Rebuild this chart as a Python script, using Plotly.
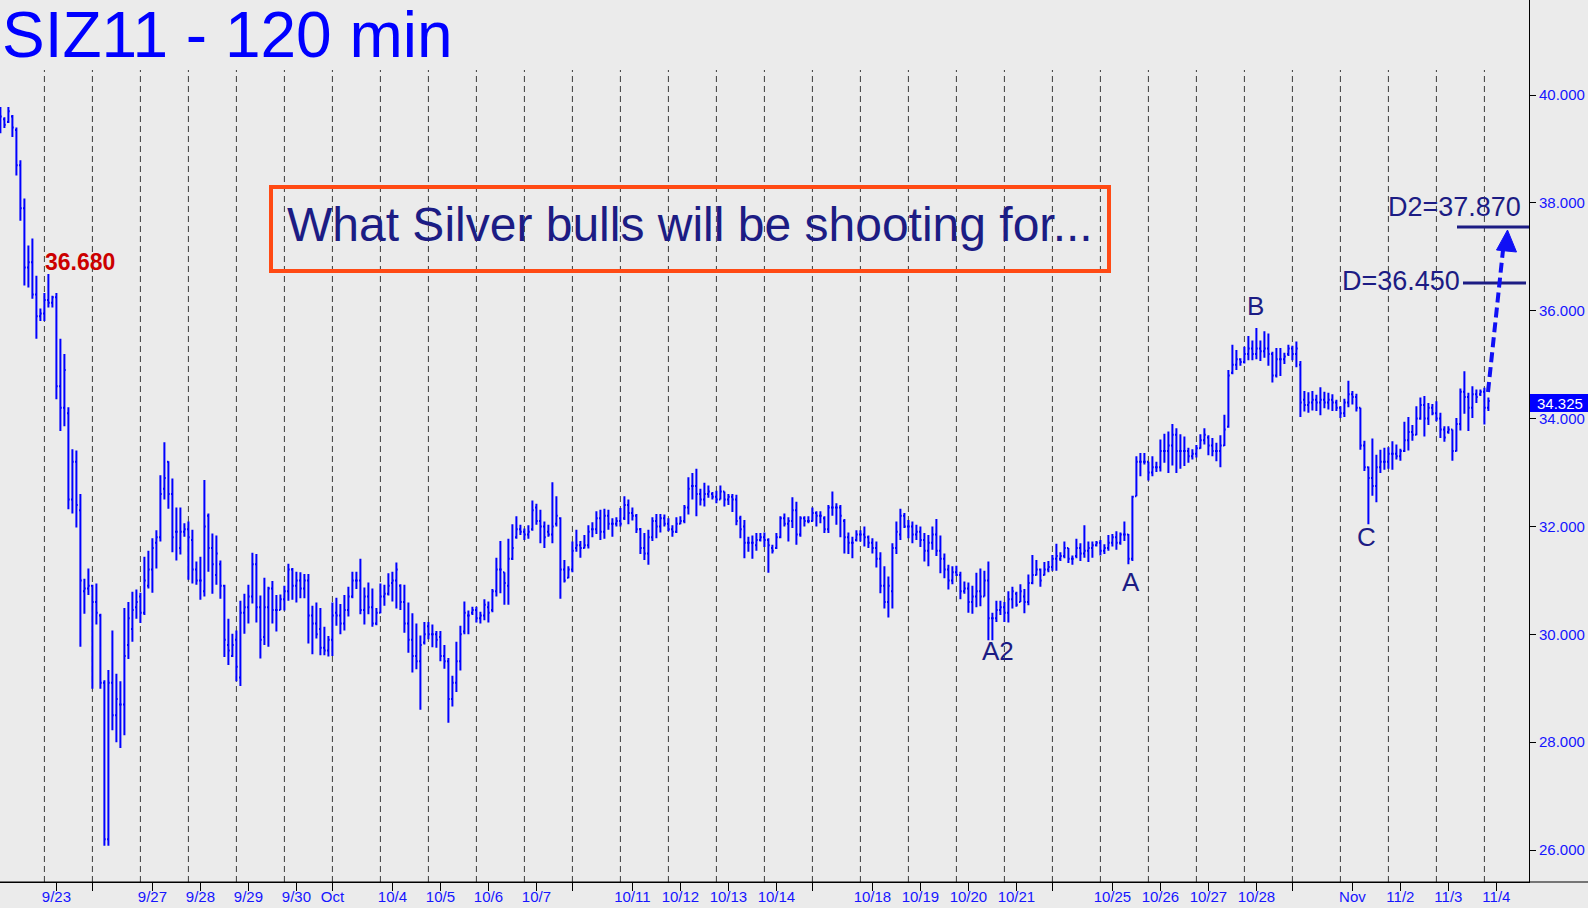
import plotly.graph_objects as go

# ---------------- data (120-min OHLC bars) ----------------
highs = [
    39.78, 39.59, 39.78, 39.63, 39.40, 38.79, 38.08, 37.21, 37.34, 36.65, 36.04,
    36.33, 36.68, 36.28, 36.33, 35.48, 35.20, 34.21, 33.43, 33.41, 32.60, 31.03, 31.22,
    30.92, 30.94, 30.38, 29.15, 29.34, 30.07, 29.27, 29.13, 30.49, 30.60, 30.79, 30.83,
    30.77, 31.44, 31.55, 31.78, 31.93, 32.95, 33.56, 33.21, 32.89, 32.35, 32.35, 32.06,
    32.09, 31.94, 31.35, 31.44, 32.86, 32.24, 31.87, 31.83, 31.37, 30.92, 30.29, 30.01,
    30.07, 30.62, 30.75, 30.92, 31.51, 31.49, 30.72, 31.05, 30.88, 30.99, 30.73, 30.74,
    30.90, 31.31, 31.23, 31.16, 31.15, 31.12, 31.12, 30.53, 30.59, 30.49, 30.14, 29.97,
    30.59, 30.68, 30.56, 30.73, 30.88, 31.16, 31.16, 31.40, 30.87, 30.96, 30.85, 30.49,
    30.94, 30.92, 31.13, 31.16, 31.33, 30.93, 30.92, 30.59, 30.39, 30.20, 29.98, 30.23,
    30.23, 30.18, 30.06, 30.06, 29.80, 29.56, 29.23, 29.86, 30.16, 30.61, 30.44, 30.51,
    30.51, 30.42, 30.65, 30.61, 30.84, 31.42, 31.73, 31.15, 31.77, 32.04, 32.19, 32.03,
    31.96, 32.02, 32.48, 32.42, 32.31, 32.09, 32.03, 32.82, 32.56, 32.17, 31.38, 31.26,
    31.72, 31.94, 31.73, 31.84, 32.02, 32.08, 32.28, 32.31, 32.33, 32.31, 32.15, 32.17,
    32.34, 32.56, 32.50, 32.35, 32.23, 31.97, 31.88, 31.94, 32.17, 32.23, 32.23, 32.22,
    32.15, 32.02, 32.17, 32.19, 32.40, 32.91, 32.99, 33.07, 32.70, 32.81, 32.76, 32.64,
    32.66, 32.76, 32.65, 32.60, 32.60, 32.59, 32.20, 32.12, 31.81, 31.83, 31.88, 31.88,
    31.89, 31.78, 31.66, 31.88, 32.19, 32.24, 32.17, 32.54, 32.46, 32.19, 32.19, 32.19,
    32.35, 32.28, 32.28, 32.19, 32.40, 32.65, 32.43, 32.40, 32.14, 31.89, 31.81, 31.93,
    31.93, 32.00, 31.83, 31.78, 31.72, 31.52, 31.26, 31.07, 31.69, 32.09, 32.33, 32.25,
    32.12, 32.09, 32.03, 32.00, 31.88, 31.84, 32.00, 32.14, 31.83, 31.50, 31.29, 31.26,
    31.27, 31.16, 30.98, 30.96, 30.90, 31.14, 31.22, 31.18, 31.35, 30.40, 30.62, 30.62,
    30.60, 30.80, 30.88, 30.79, 30.93, 30.84, 31.11, 31.47, 31.38, 31.22, 31.34, 31.36,
    31.47, 31.68, 31.52, 31.72, 31.60, 31.46, 31.77, 31.69, 32.02, 31.72, 31.72, 31.73,
    31.75, 31.67, 31.84, 31.86, 31.91, 31.89, 32.09, 31.86, 32.57, 33.30, 33.36, 33.36,
    33.20, 33.30, 33.20, 33.61, 33.72, 33.76, 33.90, 33.82, 33.71, 33.67, 33.46, 33.43,
    33.51, 33.71, 33.82, 33.69, 33.64, 33.55, 33.69, 34.07, 34.90, 35.37, 35.27, 35.12,
    35.33, 35.53, 35.45, 35.68, 35.45, 35.62, 35.58, 35.24, 35.31, 35.31, 35.22, 35.37,
    35.35, 35.43, 35.07, 34.51, 34.49, 34.51, 34.44, 34.58, 34.50, 34.48, 34.45, 34.35,
    34.23, 34.37, 34.70, 34.51, 34.46, 34.20, 33.59, 33.11, 33.63, 33.33, 33.42, 33.46,
    33.47, 33.58, 33.52, 33.44, 33.94, 34.03, 33.88, 34.23, 34.39, 34.42, 34.29, 34.27,
    34.32, 34.11, 33.86, 33.86, 33.80, 34.01, 34.56, 34.88, 34.48, 34.60, 34.54, 34.54,
    34.57, 34.39,
]
lows = [
    39.29, 39.39, 39.48, 39.22, 38.51, 37.67, 36.47, 36.43, 36.22, 35.48, 35.81,
    35.81, 36.06, 36.06, 34.36, 33.77, 33.86, 32.32, 32.24, 31.98, 29.77, 30.38, 30.73,
    28.99, 30.18, 28.99, 26.08, 26.08, 28.22, 28.00, 27.89, 28.13, 29.54, 29.86, 30.29,
    30.21, 30.36, 30.85, 30.77, 31.22, 31.72, 32.50, 32.33, 31.52, 31.37, 31.48, 31.81,
    31.01, 30.94, 30.92, 30.64, 30.70, 31.16, 30.75, 30.92, 30.66, 29.58, 29.43, 29.58,
    29.13, 29.04, 30.01, 30.20, 30.57, 30.22, 29.55, 29.80, 29.77, 30.20, 30.05, 30.45,
    30.44, 30.62, 30.64, 30.59, 30.67, 30.67, 29.83, 29.63, 29.92, 29.61, 29.61, 29.59,
    29.60, 30.16, 30.00, 30.07, 30.33, 30.67, 30.84, 30.37, 30.18, 30.37, 30.14, 30.17,
    30.39, 30.53, 30.72, 30.61, 30.48, 30.45, 30.03, 29.66, 29.29, 29.35, 28.60, 29.81,
    29.91, 29.76, 29.75, 29.50, 29.36, 28.36, 28.66, 28.93, 29.33, 30.00, 30.00, 30.36,
    30.22, 30.20, 30.26, 30.22, 30.41, 30.70, 30.76, 30.55, 30.55, 31.38, 31.77, 31.84,
    31.75, 31.77, 31.92, 32.03, 31.69, 31.60, 31.81, 31.69, 32.00, 30.66, 30.96, 31.04,
    31.15, 31.53, 31.42, 31.59, 31.59, 31.80, 31.86, 31.75, 31.77, 31.94, 31.81, 32.00,
    32.00, 32.12, 32.04, 32.11, 31.88, 31.49, 31.38, 31.29, 31.73, 31.78, 31.89, 32.00,
    31.91, 31.81, 31.88, 32.04, 32.06, 32.22, 32.50, 32.19, 32.39, 32.37, 32.53, 32.50,
    32.43, 32.50, 32.37, 32.40, 32.27, 32.02, 31.78, 31.41, 31.53, 31.40, 31.55, 31.72,
    31.62, 31.14, 31.50, 31.58, 31.78, 32.00, 31.72, 31.97, 31.66, 31.81, 32.00, 32.06,
    32.09, 32.00, 32.06, 31.88, 31.88, 32.20, 32.03, 31.80, 31.50, 31.49, 31.41, 31.72,
    31.72, 31.63, 31.60, 31.50, 31.24, 30.76, 30.48, 30.31, 30.48, 31.49, 31.75, 31.97,
    31.78, 31.69, 31.75, 31.62, 31.35, 31.26, 31.57, 31.45, 31.13, 31.04, 30.83, 30.93,
    31.08, 30.65, 30.75, 30.40, 30.38, 30.50, 30.52, 30.70, 29.89, 29.89, 30.23, 30.36,
    30.23, 30.22, 30.48, 30.51, 30.60, 30.39, 30.54, 30.93, 31.09, 30.88, 31.09, 31.15,
    31.18, 31.18, 31.36, 31.41, 31.32, 31.29, 31.41, 31.36, 31.42, 31.34, 31.42, 31.63,
    31.46, 31.49, 31.55, 31.63, 31.57, 31.66, 31.73, 31.30, 31.36, 32.56, 32.93, 33.15,
    32.85, 32.93, 33.01, 33.02, 33.18, 32.99, 33.13, 32.99, 33.07, 33.12, 33.18, 33.24,
    33.28, 33.44, 33.52, 33.32, 33.30, 33.21, 33.10, 33.49, 33.83, 34.82, 34.90, 34.98,
    35.02, 35.08, 35.08, 35.10, 35.07, 35.13, 34.98, 34.67, 34.76, 34.79, 35.01, 35.16,
    35.08, 34.95, 34.03, 34.13, 34.11, 34.15, 34.14, 34.06, 34.19, 34.17, 34.14, 34.14,
    34.01, 34.03, 34.21, 34.26, 34.13, 33.42, 33.03, 32.04, 32.57, 32.45, 32.99, 33.05,
    33.07, 33.05, 33.24, 33.22, 33.38, 33.41, 33.59, 33.69, 33.98, 33.67, 33.88, 34.06,
    33.95, 33.64, 33.57, 33.72, 33.22, 33.39, 33.78, 34.09, 33.77, 34.01, 34.29, 34.42,
    33.89, 34.14,
]
opens = [
    39.50, 39.55, 39.50, 39.60, 39.35, 38.70, 37.90, 36.80, 36.90, 36.30, 35.90,
    35.95, 36.20, 36.15, 36.25, 34.60, 34.20, 34.10, 32.50, 33.20, 32.30, 30.80, 30.85,
    30.90, 30.60, 30.35, 29.10, 26.20, 29.10, 28.50, 28.70, 28.70, 29.80, 30.10, 30.50,
    30.70, 30.40, 30.90, 31.20, 31.70, 31.80, 32.70, 33.20, 32.60, 31.90, 31.60, 31.90,
    31.95, 31.75, 31.20, 31.00, 30.80, 32.20, 31.60, 31.10, 31.30, 30.90, 29.80, 29.60,
    29.90, 29.20, 30.40, 30.50, 30.70, 31.30, 30.50, 29.95, 30.50, 30.85, 30.45, 30.45,
    30.65, 30.80, 31.20, 30.90, 31.00, 30.85, 31.00, 30.35, 30.20, 30.10, 29.75, 29.70,
    29.90, 30.40, 30.35, 30.20, 30.45, 30.70, 31.00, 31.00, 30.45, 30.70, 30.50, 30.20,
    30.40, 30.70, 30.75, 30.95, 31.00, 30.90, 30.60, 30.20, 29.90, 29.60, 29.50, 29.85,
    30.15, 30.00, 30.00, 29.95, 29.60, 29.50, 28.80, 29.10, 29.50, 30.05, 30.35, 30.40,
    30.45, 30.30, 30.35, 30.50, 30.45, 30.80, 31.20, 31.15, 30.90, 31.40, 31.80, 31.95,
    31.90, 31.85, 31.95, 32.35, 32.10, 32.00, 31.90, 31.85, 32.05, 32.15, 31.20, 31.05,
    31.20, 31.60, 31.65, 31.60, 31.65, 31.95, 31.95, 32.15, 31.90, 32.20, 32.05, 32.05,
    32.10, 32.15, 32.40, 32.25, 32.20, 31.95, 31.60, 31.50, 31.80, 32.10, 32.00, 32.15,
    32.05, 31.95, 31.90, 32.05, 32.10, 32.35, 32.75, 32.75, 32.60, 32.50, 32.60, 32.60,
    32.55, 32.50, 32.65, 32.50, 32.55, 32.50, 32.15, 32.00, 31.70, 31.70, 31.65, 31.75,
    31.80, 31.75, 31.60, 31.60, 31.80, 32.15, 32.05, 32.10, 32.30, 31.85, 32.15, 32.10,
    32.10, 32.25, 32.20, 32.15, 31.95, 32.35, 32.35, 32.35, 32.10, 31.80, 31.70, 31.75,
    31.85, 31.85, 31.80, 31.70, 31.60, 31.40, 30.90, 30.60, 30.80, 31.60, 31.85, 32.20,
    32.00, 32.00, 31.85, 31.90, 31.75, 31.55, 31.70, 31.85, 31.55, 31.40, 31.20, 31.00,
    31.15, 31.10, 30.80, 30.85, 30.60, 30.70, 30.80, 30.70, 31.00, 30.30, 30.30, 30.45,
    30.50, 30.40, 30.65, 30.75, 30.60, 30.70, 30.60, 30.95, 31.10, 31.20, 31.10, 31.20,
    31.25, 31.40, 31.40, 31.45, 31.60, 31.40, 31.45, 31.60, 31.50, 31.55, 31.60, 31.65,
    31.70, 31.55, 31.60, 31.70, 31.80, 31.70, 31.85, 31.85, 31.40, 32.56, 33.20, 33.20,
    33.20, 33.00, 33.10, 33.10, 33.40, 33.40, 33.50, 33.70, 33.40, 33.40, 33.40, 33.30,
    33.35, 33.45, 33.60, 33.65, 33.50, 33.40, 33.40, 33.50, 33.85, 34.85, 35.00, 35.10,
    35.05, 35.20, 35.30, 35.20, 35.30, 35.25, 35.30, 35.20, 34.80, 35.10, 35.10, 35.20,
    35.30, 35.20, 35.00, 34.35, 34.25, 34.30, 34.35, 34.30, 34.35, 34.30, 34.35, 34.30,
    34.20, 34.10, 34.30, 34.45, 34.40, 34.20, 33.50, 33.10, 32.90, 32.75, 33.10, 33.20,
    33.20, 33.35, 33.35, 33.30, 33.40, 33.60, 33.75, 33.70, 34.00, 34.25, 34.00, 34.20,
    34.10, 34.00, 33.80, 33.75, 33.80, 33.40, 33.90, 34.50, 34.40, 34.20, 34.45, 34.45,
    34.50, 34.20,
]
closes = [
    39.60, 39.45, 39.70, 39.40, 38.70, 37.90, 36.80, 36.90, 36.30, 35.90, 35.95,
    36.20, 36.15, 36.25, 34.60, 34.20, 34.90, 32.50, 33.20, 32.40, 31.00, 30.85, 30.90,
    30.60, 30.40, 29.10, 26.20, 29.10, 28.50, 28.80, 28.70, 29.60, 30.30, 30.45, 30.60,
    30.40, 31.00, 31.20, 31.60, 31.80, 32.60, 32.90, 32.60, 31.80, 31.90, 31.90, 31.95,
    31.80, 31.20, 31.00, 31.00, 32.00, 31.60, 31.30, 31.50, 30.90, 29.90, 29.70, 29.80,
    29.40, 30.40, 30.50, 30.70, 31.30, 30.50, 29.90, 30.50, 30.85, 30.45, 30.45, 30.65,
    30.80, 31.20, 30.90, 31.00, 30.85, 31.00, 30.35, 30.20, 30.00, 29.75, 29.70, 29.90,
    30.35, 30.35, 30.20, 30.45, 30.70, 31.00, 31.00, 30.45, 30.70, 30.50, 30.20, 30.40,
    30.70, 30.75, 30.90, 31.00, 31.20, 30.60, 30.20, 29.90, 29.60, 29.50, 29.80, 30.00,
    30.00, 30.00, 29.90, 29.60, 29.50, 28.80, 29.10, 29.50, 30.00, 30.40, 30.35, 30.45,
    30.30, 30.35, 30.55, 30.40, 30.80, 31.20, 31.20, 30.95, 31.40, 31.60, 31.95, 31.90,
    31.85, 31.90, 32.30, 32.10, 32.00, 31.80, 31.85, 32.00, 32.20, 31.20, 31.00, 31.20,
    31.55, 31.65, 31.60, 31.65, 31.90, 31.95, 32.15, 31.90, 32.20, 32.05, 32.05, 32.10,
    32.05, 32.40, 32.25, 32.20, 31.95, 31.60, 31.50, 31.80, 32.10, 32.00, 32.15, 32.05,
    31.95, 31.90, 32.05, 32.10, 32.35, 32.70, 32.75, 32.60, 32.50, 32.60, 32.65, 32.55,
    32.50, 32.65, 32.50, 32.55, 32.50, 32.10, 31.95, 31.70, 31.70, 31.70, 31.75, 31.80,
    31.75, 31.65, 31.55, 31.80, 32.15, 32.05, 32.10, 32.30, 31.85, 32.15, 32.10, 32.10,
    32.25, 32.20, 32.20, 31.95, 32.35, 32.35, 32.35, 32.20, 31.80, 31.70, 31.70, 31.85,
    31.85, 31.80, 31.70, 31.60, 31.40, 30.90, 30.60, 30.90, 31.60, 31.90, 32.20, 32.00,
    32.00, 31.85, 31.90, 31.75, 31.55, 31.70, 31.85, 31.55, 31.40, 31.20, 31.00, 31.15,
    31.10, 30.80, 30.85, 30.60, 30.70, 30.80, 30.70, 31.00, 30.30, 30.30, 30.45, 30.50,
    30.40, 30.65, 30.80, 30.55, 30.80, 30.60, 30.95, 31.10, 31.20, 31.00, 31.20, 31.25,
    31.40, 31.45, 31.45, 31.60, 31.40, 31.40, 31.60, 31.50, 31.55, 31.60, 31.65, 31.70,
    31.55, 31.60, 31.70, 31.80, 31.70, 31.85, 31.85, 31.40, 32.55, 33.20, 33.20, 33.20,
    33.00, 33.10, 33.10, 33.40, 33.40, 33.50, 33.70, 33.40, 33.40, 33.40, 33.30, 33.35,
    33.45, 33.60, 33.70, 33.50, 33.40, 33.40, 33.50, 33.80, 34.80, 35.00, 35.10, 35.05,
    35.20, 35.30, 35.20, 35.30, 35.25, 35.30, 35.20, 34.80, 35.10, 35.10, 35.15, 35.30,
    35.20, 35.30, 34.30, 34.25, 34.30, 34.35, 34.30, 34.35, 34.30, 34.35, 34.30, 34.20,
    34.10, 34.30, 34.45, 34.40, 34.20, 33.50, 33.10, 32.90, 32.75, 33.10, 33.20, 33.20,
    33.35, 33.35, 33.30, 33.40, 33.60, 33.75, 33.70, 34.00, 34.25, 34.00, 34.20, 34.10,
    34.00, 33.80, 33.65, 33.80, 33.40, 33.90, 34.50, 34.40, 34.20, 34.45, 34.40, 34.50,
    34.20, 34.325,
]
bar_index = list(range(len(highs)))

# day labels on the time axis (bar index of each labelled tick)
day_tick_bars = [14, 38, 50, 62, 74, 83, 98, 110, 122, 134, 158, 170, 182, 194,
                 218, 230, 242, 254, 278, 290, 302, 314, 338, 350, 362, 374]
day_tick_labels = ["9/23", "9/27", "9/28", "9/29", "9/30", "Oct", "10/4", "10/5",
                   "10/6", "10/7", "10/11", "10/12", "10/13", "10/14", "10/18",
                   "10/19", "10/20", "10/21", "10/25", "10/26", "10/27", "10/28",
                   "Nov", "11/2", "11/3", "11/4"]
week_start_bars = [23, 143, 203, 263, 323]           # unlabelled ticks
session_break_bars = [11 + 12 * k for k in range(31)]  # dashed day separators

price_ticks = [26, 28, 30, 32, 34, 36, 38, 40]
last_price = "34.325"
peak_label = "36.680"
d_label, d2_label = "D=36.450", "D2=37.870"

# ---------------- geometry helpers ----------------
W, H = 1588, 908
PL, PR, PT, PB = 0, 1529, 0, 882
YMIN, YMAX = 25.407, 41.762
XMIN, XMAX = -0.1, 382.15


def px(x):
    return (x - PL) / (PR - PL)


def py(y):
    return 1 - (y - PT) / (PB - PT)


NAVY = "#1C1C84"
BLUE = "#0000FF"
AXBLUE = "#1515FF"
FONT = "Liberation Sans, Arial, sans-serif"

fig = go.Figure()
fig.add_trace(go.Ohlc(
    x=bar_index, open=opens, high=highs, low=lows, close=closes,
    increasing=dict(line=dict(color=BLUE, width=2)),
    decreasing=dict(line=dict(color=BLUE, width=2)),
    tickwidth=0.35, hoverinfo="skip", showlegend=False,
))

shapes = []
for b in session_break_bars:
    shapes.append(dict(type="line", xref="x", yref="y", x0=b, x1=b,
                       y0=YMIN, y1=40.464, layer="below",
                       line=dict(color="#3C3C3C", width=1, dash="6px,4px")))
# bottom rule extends to the right edge
shapes.append(dict(type="line", xref="paper", yref="paper", x0=0, x1=px(W),
                   y0=0, y1=0, line=dict(color="black", width=1)))
# orange box
shapes.append(dict(type="rect", xref="paper", yref="paper",
                   x0=px(271), x1=px(1109), y0=py(187), y1=py(271),
                   line=dict(color="#FF4A14", width=4), fillcolor="rgba(0,0,0,0)"))
# D and D2 levels
shapes.append(dict(type="line", xref="paper", yref="paper", x0=px(1457), x1=px(1529),
                   y0=py(227), y1=py(227), line=dict(color=NAVY, width=3)))
shapes.append(dict(type="line", xref="paper", yref="paper", x0=px(1463), x1=px(1526),
                   y0=py(283), y1=py(283), line=dict(color=NAVY, width=3)))
# dashed projection arrow
shapes.append(dict(type="line", xref="paper", yref="paper", x0=px(1488), x1=px(1503),
                   y0=py(392), y1=py(250), line=dict(color="#1010F5", width=4, dash="10px,5px")))
shapes.append(dict(type="path", xref="paper", yref="paper",
                   path=f"M {px(1507.5)},{py(230)} L {px(1496.5)},{py(250)} L {px(1516.5)},{py(252)} Z",
                   fillcolor="#1010F5", line=dict(color="#1010F5", width=1)))
# last price box
shapes.append(dict(type="rect", xref="paper", yref="paper",
                   x0=px(1530), x1=px(1588), y0=py(394), y1=py(412),
                   fillcolor=BLUE, line=dict(width=0)))

ann = []
ann.append(dict(text="SIZ11 - 120 min", xref="paper", yref="paper", x=px(1), y=py(35.5),
                xanchor="left", yanchor="middle", showarrow=False, borderpad=0,
                font=dict(family=FONT, size=64, color=BLUE)))
ann.append(dict(text="What Silver bulls will be shooting for...", xref="paper", yref="paper",
                x=px(285), y=py(225), xanchor="left", yanchor="middle", showarrow=False,
                font=dict(family=FONT, size=48, color=NAVY)))
ann.append(dict(text=f"<b>{peak_label}</b>", xref="paper", yref="paper", x=px(43), y=py(262),
                xanchor="left", yanchor="middle", showarrow=False,
                font=dict(family=FONT, size=23, color="#CC0000")))
ann.append(dict(text=d2_label, xref="paper", yref="paper", x=px(1523), y=py(207),
                xanchor="right", yanchor="middle", showarrow=False,
                font=dict(family=FONT, size=27, color=NAVY)))
ann.append(dict(text=d_label, xref="paper", yref="paper", x=px(1462), y=py(281),
                xanchor="right", yanchor="middle", showarrow=False,
                font=dict(family=FONT, size=27, color=NAVY)))
for t, x, y in [("A2", 998, 651), ("A", 1131, 582), ("B", 1255, 306), ("C", 1366, 537)]:
    ann.append(dict(text=t, xref="paper", yref="paper", x=px(x), y=py(y),
                    xanchor="center", yanchor="middle", showarrow=False,
                    font=dict(family=FONT, size=26, color=NAVY)))
ann.append(dict(text=last_price, xref="paper", yref="paper", x=px(1535), y=py(403),
                xanchor="left", yanchor="middle", showarrow=False,
                font=dict(family=FONT, size=15, color="white")))

fig.update_layout(
    width=W, height=H, margin=dict(l=PL, r=W - PR, t=PT, b=H - PB, pad=0, autoexpand=False),
    paper_bgcolor="#EBEBEB", plot_bgcolor="#EBEBEB",
    showlegend=False, shapes=shapes, annotations=ann,
    xaxis=dict(range=[XMIN, XMAX], rangeslider=dict(visible=False), showgrid=False,
               zeroline=False, showline=True, linecolor="black", linewidth=1,
               automargin=False,
               ticks="outside", ticklen=8, tickcolor="black", tickwidth=1,
               ticklabelstandoff=-7,
               tickvals=day_tick_bars + week_start_bars,
               ticktext=day_tick_labels + [""] * len(week_start_bars),
               tickfont=dict(family=FONT, size=15, color=AXBLUE)),
    yaxis=dict(range=[YMIN, YMAX], side="right", showgrid=False, zeroline=False,
               showline=True, linecolor="black", linewidth=1, automargin=False,
               ticks="outside", ticklen=6, tickcolor="black",
               tickvals=price_ticks, ticktext=[f"{v:.3f}" for v in price_ticks],
               tickfont=dict(family=FONT, size=15, color=AXBLUE)),
)

fig.write_html(
    "out.html",
    config=dict(displayModeBar=False),
    post_script="document.body.style.margin='0';document.body.style.overflow='hidden';"
                "document.body.style.background='#EBEBEB';",
)
